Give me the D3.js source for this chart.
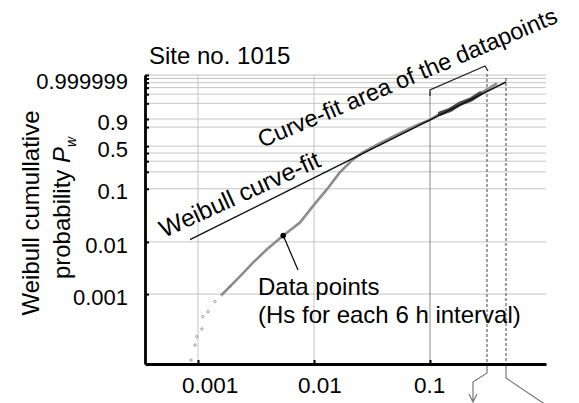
<!DOCTYPE html>
<html>
<head>
<meta charset="utf-8">
<script src="https://cdn.jsdelivr.net/npm/d3@7"></script>
<style>
  body { margin: 0; background: #fff; }
  svg { display: block; font-family: "Liberation Sans", Arial, sans-serif; }
</style>
</head>
<body>
<div id="chart_area"></div>
<script>
// measured Hs data (x = value, P = Weibull cumulative probability)
var hsX = [0.000871, 0.000942, 0.000975, 0.00108, 0.00110, 0.00122, 0.00140, 0.00160,
           0.00189, 0.00230, 0.00298, 0.00391, 0.00543, 0.00757, 0.00979, 0.0129,
           0.0167, 0.0217, 0.0264, 0.0371, 0.0551, 0.0820, 0.100, 0.122, 0.150,
           0.1815, 0.225, 0.270, 0.329, 0.378];
var hsP = [5.4e-5, 1.05e-4, 1.52e-4, 2.14e-4, 3.70e-4, 4.61e-4, 7.20e-4, 9.69e-4,
           1.40e-3, 2.18e-3, 4.01e-3, 7.14e-3, 0.0132, 0.0234, 0.0476, 0.0972,
           0.1954, 0.3210, 0.4101, 0.545, 0.7066, 0.8458, 0.8905, 0.9457, 0.9687,
           0.98933, 0.99570, 0.99916, 0.99990, 0.999985];

// weibull curve-fit end points
var fitX = [0.000853, 0.452];
var fitP = [0.01105, 0.9999927];

// curve-fit area limits
var fitArea = [0.1, 0.31];
var limitX = [0.31, 0.452];

var xTicks = [0.001, 0.01, 0.1];
var xTickLabels = ["0.001", "0.01", "0.1"];
var yTicks = [0.001, 0.01, 0.1, 0.5, 0.9, 0.999999];
var yTickLabels = ["0.001", "0.01", "0.1", "0.5", "0.9", "0.999999"];
var yGrid = [0.001, 0.01, 0.1, 0.2, 0.3, 0.4, 0.5, 0.8, 0.9, 0.99, 0.999, 0.9999,
             0.99999, 0.999999, 0.9999999];

var annotIndex = 12; // the black "Data points" dot

drawChart();

function drawChart(){

    var W = 579, H = 403;
    var m = {left: 145, right: 546, top: 75, bottom: 364};

    var svg = d3.select("#chart_area")
        .append("svg")
            .attr("width", W)
            .attr("height", H);

    function weib(p){
        return Math.log(-Math.log(1 - p));
    }

    var x = d3.scaleLog()
        .domain([Math.pow(10, -3.457), 1])
        .range([m.left, m.right]);

    var y = d3.scaleLinear()
        .domain([-10, 2.78])
        .range([m.bottom, m.top]);

    //grid
    svg.selectAll(".hgrid")
        .data(yGrid)
        .enter().append("line")
            .attr("x1", m.left)
            .attr("x2", m.right)
            .attr("y1", function(d){ return y(weib(d)); })
            .attr("y2", function(d){ return y(weib(d)); })
            .attr("stroke", "#c4c4c4")
            .attr("stroke-width", 1);

    svg.selectAll(".vgrid")
        .data(xTicks.slice(0, 2))
        .enter().append("line")
            .attr("x1", function(d){ return x(d); })
            .attr("x2", function(d){ return x(d); })
            .attr("y1", m.top)
            .attr("y2", m.bottom)
            .attr("stroke", "#c4c4c4")
            .attr("stroke-width", 1);

    // line at start of fit area + bracket
    var bx0 = x(fitArea[0]), bx1 = x(fitArea[1]);
    svg.append("line")
        .attr("x1", bx0).attr("x2", bx0)
        .attr("y1", 92).attr("y2", m.bottom)
        .attr("stroke", "#8a8a8a")
        .attr("stroke-width", 1);

    svg.append("path")
        .attr("d", "M" + bx0 + ",96 L" + bx0 + ",90 L" + (bx1 - 2) + ",66 L" + (bx1 + 1) + ",71")
        .attr("fill", "none")
        .attr("stroke", "#222")
        .attr("stroke-width", 1.3);

    // dashed limit lines
    svg.selectAll(".limit")
        .data(limitX)
        .enter().append("line")
            .attr("x1", function(d){ return x(d); })
            .attr("x2", function(d){ return x(d); })
            .attr("y1", function(d, i){ return i == 0 ? 74 : 78; })
            .attr("y2", m.bottom)
            .attr("stroke", "#555")
            .attr("stroke-width", 1.1)
            .attr("stroke-dasharray", "3,2");

    // arrows below axis
    var lx = x(limitX[0]), rx = x(limitX[1]);
    svg.append("path")
        .attr("d", "M" + lx + "," + m.bottom + " L" + lx + ",373 L" + (lx - 14) + ",382 L" + (lx - 14) + ",402"
            + " M" + (lx - 18) + ",394 L" + (lx - 14) + ",402 L" + (lx - 10) + ",394")
        .attr("fill", "none")
        .attr("stroke", "#777")
        .attr("stroke-width", 1.2);

    svg.append("path")
        .attr("d", "M" + rx + "," + m.bottom + " L" + rx + ",378 L" + (rx + 40) + ",405")
        .attr("fill", "none")
        .attr("stroke", "#777")
        .attr("stroke-width", 1.2);

    // data points
    var pts = hsX.map(function(d, i){ return {x: d, p: hsP[i]}; });

    var line = d3.line()
        .x(function(d){ return x(d.x); })
        .y(function(d){ return y(weib(d.p)); });

    svg.append("path")
        .datum(pts.slice(7))
        .attr("d", line)
        .attr("fill", "none")
        .attr("stroke", "#8c8c8c")
        .attr("stroke-width", 2.6);

    svg.append("path")
        .datum(pts.filter(function(d){ return d.x >= 0.12 && d.x <= 0.30; }))
        .attr("d", line)
        .attr("fill", "none")
        .attr("stroke", "#4a4a4a")
        .attr("stroke-width", 4.5)
        .attr("stroke-linecap", "round");

    svg.selectAll(".pt")
        .data(pts.slice(0, 9))
        .enter().append("circle")
            .attr("cx", function(d){ return x(d.x); })
            .attr("cy", function(d){ return y(weib(d.p)); })
            .attr("r", 1.2)
            .attr("fill", "none")
            .attr("stroke", "#888")
            .attr("stroke-width", 0.8);

    // fit line
    var fitPts = fitX.map(function(d, i){ return {x: d, p: fitP[i]}; });
    svg.append("path")
        .datum(fitPts)
        .attr("d", line)
        .attr("fill", "none")
        .attr("stroke", "#111")
        .attr("stroke-width", 1.4);

    // annotation dot + leader
    var ad = pts[annotIndex];
    svg.append("circle")
        .attr("cx", x(ad.x))
        .attr("cy", y(weib(ad.p)))
        .attr("r", 2.8)
        .attr("fill", "#000");

    svg.append("line")
        .attr("x1", x(ad.x)).attr("y1", y(weib(ad.p)))
        .attr("x2", 298).attr("y2", 270)
        .attr("stroke", "#000")
        .attr("stroke-width", 1.2);

    //x axis
    var xAxis = d3.axisBottom(x)
        .tickValues(xTicks)
        .tickSize(-4)
        .tickSizeOuter(0)
        .tickFormat("");
    var gx = svg.append("g")
        .attr("transform", "translate(0," + m.bottom + ")")
        .call(xAxis);
    gx.select(".domain").attr("stroke", "#000").attr("stroke-width", 2.8);
    gx.selectAll(".tick line").attr("stroke", "#000").attr("stroke-width", 2);

    svg.selectAll(".xlab")
        .data(xTicks)
        .enter().append("text")
            .attr("x", function(d){ return x(d) - 16; })
            .attr("y", 393)
            .attr("font-size", "22.5px")
            .attr("text-anchor", "start")
            .text(function(d, i){ return xTickLabels[i]; });

    //y axis
    var yAxis = d3.axisLeft(y)
        .tickValues(yGrid.map(weib))
        .tickSize(-4)
        .tickSizeOuter(0)
        .tickFormat("");
    var gy = svg.append("g")
        .attr("transform", "translate(" + m.left + ",0)")
        .call(yAxis);
    gy.select(".domain").attr("stroke", "#000").attr("stroke-width", 2.8);
    gy.selectAll(".tick line").attr("stroke", "#000").attr("stroke-width", 2);

    svg.selectAll(".ylab")
        .data(yTicks)
        .enter().append("text")
            .attr("x", 128)
            .attr("y", function(d){ return y(weib(d)) + 3; })
            .attr("dy", "0.35em")
            .attr("font-size", "22px")
            .attr("text-anchor", "end")
            .text(function(d, i){ return yTickLabels[i]; });

    //y label
    var yl = svg.append("text")
        .attr("transform", "rotate(-90)")
        .attr("font-size", "24px")
        .attr("text-anchor", "middle");
    yl.append("tspan")
        .attr("x", -213)
        .attr("y", 39)
        .text("Weibull cumullative");
    yl.append("tspan")
        .attr("x", -208)
        .attr("y", 70)
        .text("probability ");
    yl.append("tspan")
        .attr("font-style", "italic")
        .text("P");
    yl.append("tspan")
        .attr("font-style", "italic")
        .attr("font-size", "14px")
        .attr("dy", 6)
        .text("w");

    // title
    svg.append("text")
        .attr("x", 149)
        .attr("y", 64)
        .attr("font-size", "24px")
        .text("Site no. 1015");

    // annotations
    svg.append("text")
        .attr("transform", "translate(164,238) rotate(-24.5)")
        .attr("font-size", "24.5px")
        .text("Weibull curve-fit");

    svg.append("text")
        .attr("transform", "translate(262,148) rotate(-23)")
        .attr("font-size", "23.5px")
        .text("Curve-fit area of the datapoints");

    svg.append("text")
        .attr("x", 258)
        .attr("y", 295)
        .attr("font-size", "24px")
        .text("Data points");

    svg.append("text")
        .attr("x", 258)
        .attr("y", 323)
        .attr("font-size", "24px")
        .text("(Hs for each 6 h interval)");

} // drawChart()
</script>
</body>
</html>
